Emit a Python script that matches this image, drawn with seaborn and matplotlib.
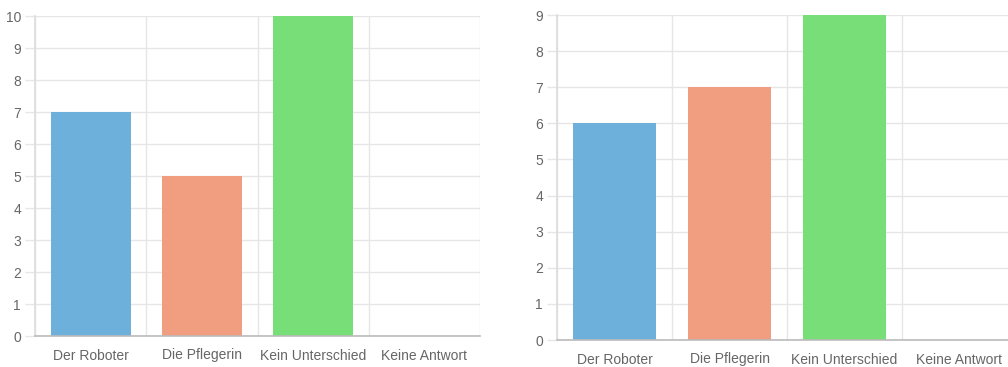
import numpy as np
import matplotlib.pyplot as plt
import seaborn as sns
import pandas as pd

categories = ["Der Roboter", "Die Pflegerin", "Kein Unterschied", "Keine Antwort"]
left_values = [7, 5, 10, 0]
right_values = [6, 7, 9, 0]
bar_colors = ["#6eb0dc", "#f19d80", "#78de78", "#cccccc"]

sns.set_theme(style="white")
plt.rcParams["font.family"] = ["Liberation Sans", "DejaVu Sans"]

fig = plt.figure(figsize=(10.08, 3.67), dpi=100)
ax1 = fig.add_axes([35 / 1008, 1 - 336 / 367, 445 / 1008, 320 / 367])
ax2 = fig.add_axes([557 / 1008, 1 - 340 / 367, 460 / 1008, 325 / 367])


def draw(ax, values, ymax):
    df = pd.DataFrame({"cat": categories, "val": values})
    sns.barplot(data=df, x="cat", y="val", hue="cat", palette=bar_colors,
                width=0.72, legend=False, ax=ax, saturation=1, linewidth=0)
    ax.set_xlim(-0.5, len(categories) - 0.5)
    ax.set_ylim(0, ymax)
    ax.set_yticks(range(0, ymax + 1))
    ax.set_xlabel("")
    ax.set_ylabel("")
    ax.set_xticks(np.arange(len(categories) + 1) - 0.5, minor=True)
    ax.grid(True, which="minor", axis="x", color="#e6e6e6", lw=1)
    ax.grid(True, which="major", axis="y", color="#e6e6e6", lw=1)
    ax.set_axisbelow(True)
    ax.tick_params(axis="x", which="major", length=0, pad=9, labelsize=10, labelcolor="#666666")
    ax.tick_params(axis="x", which="minor", length=9, width=1, color="#e6e6e6", direction="out")
    ax.tick_params(axis="y", length=7, width=1, color="#e6e6e6", direction="out", pad=3,
                   labelsize=10, labelcolor="#666666", left=True)
    for s in ["top", "right"]:
        ax.spines[s].set_visible(False)
    ax.spines["left"].set_color("#dddddd")
    ax.spines["bottom"].set_color("#bbbbbb")
    ax.spines["bottom"].set_linewidth(1.2)


draw(ax1, left_values, 10)
draw(ax2, right_values, 9)

fig.savefig("out.png", dpi=100)
